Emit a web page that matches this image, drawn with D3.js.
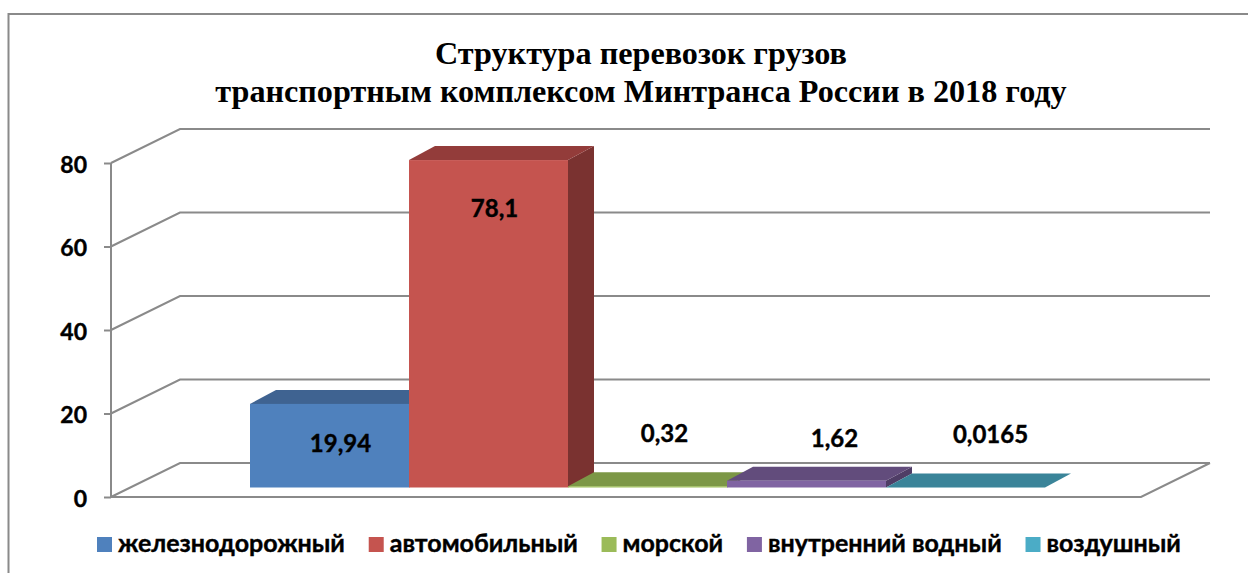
<!DOCTYPE html>
<html>
<head>
<meta charset="utf-8">
<script src="https://cdn.jsdelivr.net/npm/d3@7"></script>
<style>
  html, body { margin: 0; padding: 0; background: #fff; overflow: hidden; }
  svg { display: block; }
  .sans { font-family: Lato, "Open Sans", sans-serif; font-weight: 700; fill: #000; stroke: #000; stroke-width: 0.4; }
</style>
</head>
<body>
<svg width="1248" height="573"></svg>
<script>
const titleLines = ['Структура перевозок грузов', 'транспортным комплексом Минтранса России в 2018 году'];
const categories = ['железнодорожный', 'автомобильный', 'морской', 'внутренний водный', 'воздушный'];
const values = [19.94, 78.1, 0.32, 1.62, 0.0165];
const valueLabels = ['19,94', '78,1', '0,32', '1,62', '0,0165'];
const yTicks = [0, 20, 40, 60, 80];
const frontColors = ['#4f81bd', '#c5544f', '#9bbb59', '#8064a2', '#4bacc6'];
const topColors = ['#3f6391', '#933c3a', '#7c9746', '#624c7c', '#3a8499'];
const sideColors = ['#32506f', '#7a3230', '#5f7336', '#4f3d66', '#2d6676'];

// hand placed labels, same as the original chart
const labelShiftX = [11, 6, 17, 28, 25];
const labelBaseY = [452, 217, 442, 447, 443];

const svg = d3.select('svg');
const gridColor = '#8a8a8a';

// frame runs off the right and bottom of the picture
svg.append('path')
    .attr('d', 'M8.5,573V14H1248')
    .attr('fill', 'none').attr('stroke', gridColor).attr('stroke-width', 2);

svg.selectAll('.title')
    .data(titleLines)
    .enter()
    .append('text')
    .attr('class', 'title')
    .attr('x', 641)
    .attr('y', (d, i) => 64 + i * 38)
    .attr('text-anchor', 'middle')
    .attr('font-family', '"Liberation Serif", serif')
    .attr('font-weight', 700)
    .attr('font-size', 32.2)
    .text(d => d);

// walls: front edge of the floor plus a fixed depth offset to the back wall
const wallDx = 69;
const wallDy = -34;
const frontLeft = 111;
const frontRight = 1141;
const yScale = d3.scaleLinear().domain([0, 80]).range([497, 163]);

const grid = svg.append('g').attr('fill', 'none').attr('stroke', gridColor).attr('stroke-width', 2);

grid.selectAll('.wall')
    .data(yTicks)
    .enter()
    .append('path')
    .attr('d', d => `M${frontLeft},${yScale(d)}L${frontLeft + wallDx},${yScale(d) + wallDy}H${frontRight + wallDx}`);

grid.append('path')
    .attr('d', `M${frontLeft},${yScale(80)}V${yScale(0)}H${frontRight}l${wallDx},${wallDy}`);

const axis = d3.axisLeft(yScale).tickValues(yTicks).tickSize(7).tickPadding(17);
const axisG = svg.append('g')
    .attr('transform', `translate(${frontLeft},0)`)
    .call(axis);
axisG.select('.domain').remove();
axisG.selectAll('line').attr('stroke', gridColor).attr('stroke-width', 2);
axisG.selectAll('text')
    .attr('class', 'sans')
    .attr('font-size', 23)
    .attr('font-family', null)
    .attr('dy', '0.4em');

// bars stand a bit deeper than the front edge of the floor
const xScale = d3.scaleBand().domain(categories).range([250, 1045]);
const barScale = d3.scaleLinear().domain([0, 80]).range([487.5, 152.1]);
const barDx = 26;
const barDy = -14;

const bars = svg.selectAll('.bar')
    .data(values)
    .enter()
    .append('g')
    .attr('class', 'bar');

const left = i => xScale(categories[i]);
const right = i => left(i) + xScale.bandwidth();

bars.append('path') // side
    .attr('fill', (d, i) => sideColors[i])
    .attr('d', (d, i) => `M${right(i)},${barScale(d)}l${barDx},${barDy}V${barScale(0) + barDy}L${right(i)},${barScale(0)}Z`);
bars.append('path') // top
    .attr('fill', (d, i) => topColors[i])
    .attr('d', (d, i) => `M${left(i)},${barScale(d)}l${barDx},${barDy}H${right(i) + barDx}L${right(i)},${barScale(d)}Z`);
bars.append('rect') // front
    .attr('fill', (d, i) => frontColors[i])
    .attr('x', (d, i) => left(i))
    .attr('y', d => barScale(d))
    .attr('width', xScale.bandwidth())
    .attr('height', d => barScale(0) - barScale(d));

svg.selectAll('.value')
    .data(valueLabels)
    .enter()
    .append('text')
    .attr('class', 'value sans')
    .attr('x', (d, i) => left(i) + xScale.bandwidth() / 2 + labelShiftX[i])
    .attr('y', (d, i) => labelBaseY[i])
    .attr('text-anchor', 'middle')
    .attr('font-size', 24)
    .text(d => d);

// legend flows left to right from the measured text widths
let legendX = 97;
categories.forEach((name, i) => {
    svg.append('rect')
        .attr('x', legendX).attr('y', 537)
        .attr('width', 15).attr('height', 15)
        .attr('fill', frontColors[i]);
    const label = svg.append('text')
        .attr('class', 'sans')
        .attr('x', legendX + 21)
        .attr('y', 552)
        .attr('font-size', 25)
        .text(name);
    legendX += 21 + label.node().getComputedTextLength() + 23.8;
});
</script>
</body>
</html>
